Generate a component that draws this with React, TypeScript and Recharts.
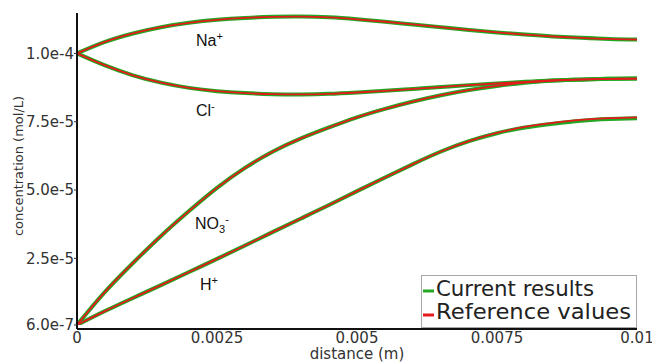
import React from 'react';
import { LineChart, Line, XAxis, YAxis, Label } from 'recharts';

// distance along the domain (m)
const distance = [0, 0.0005, 0.001, 0.0015, 0.002, 0.0025, 0.003, 0.0035, 0.004, 0.0045, 0.005,
    0.0055, 0.006, 0.0065, 0.007, 0.0075, 0.008, 0.0085, 0.009, 0.0095, 0.01];

// concentrations in µmol/L
const naPlus = [100.0, 104.2, 107.3, 109.6, 111.2, 112.3, 113.0, 113.4, 113.5, 113.2, 112.5,
    111.6, 110.6, 109.6, 108.6, 107.7, 106.9, 106.2, 105.7, 105.3, 105.1];
const clMinus = [100.0, 95.6, 92.0, 89.3, 87.4, 86.2, 85.5, 85.1, 85.0, 85.2, 85.7,
    86.3, 87.0, 87.7, 88.4, 89.0, 89.6, 90.1, 90.4, 90.7, 90.8];
const no3Minus = [0.6, 12.7, 23.3, 33.2, 42.3, 50.8, 58.1, 64.1, 68.9, 72.9, 76.6,
    79.7, 82.4, 84.7, 86.6, 88.1, 89.3, 90.1, 90.5, 90.7, 90.8];
// reference H+ and the current run, which ends a touch lower
const hPlus = [0.6, 5.7, 10.5, 15.2, 20.0, 24.8, 29.7, 34.7, 39.6, 44.5, 49.6,
    54.6, 59.5, 64.1, 67.9, 70.9, 73.1, 74.6, 75.7, 76.3, 76.6];
const hPlusCurrent = [0.6, 5.7, 10.5, 15.2, 20.0, 24.8, 29.7, 34.7, 39.6, 44.5, 49.6,
    54.6, 59.5, 64.1, 67.9, 70.8, 72.9, 74.3, 75.4, 76.0, 76.3];

const currentKeys = ['na', 'cl', 'no3', 'hCur'];
const referenceKeys = ['na', 'cl', 'no3', 'h'];

const xTicks = [0, 0.0025, 0.005, 0.0075, 0.01];
const xTickLabels = ['0', '0.0025', '0.005', '0.0075', '0.01'];
const yTicks = [6e-7, 2.5e-5, 5e-5, 7.5e-5, 1e-4];
const yTickLabels = ['6.0e-7', '2.5e-5', '5.0e-5', '7.5e-5', '1.0e-4'];

const GREEN = '#22a822';
const RED = '#e41a1c';
const FONT = '"DejaVu Sans", sans-serif';
const LABEL_FONT = '"Liberation Sans", Arial, sans-serif';

const rows = distance.map((x, i) => ({
    x,
    na: naPlus[i] * 1e-6,
    cl: clMinus[i] * 1e-6,
    no3: no3Minus[i] * 1e-6,
    h: hPlus[i] * 1e-6,
    hCur: hPlusCurrent[i] * 1e-6,
}));

const YTitle = () => (
    <text x={18} y={166} transform="rotate(-90 18 166)" textAnchor="middle" dominantBaseline="central"
        fontFamily={FONT} fontSize={13} fill="#333">
        concentration (mol/L)
    </text>
);

export default function App() {
    return (
        <div style={{ position: 'absolute', left: 0, top: 0, width: 652, height: 363, background: '#fff' }}>
            <LineChart width={652} height={363} data={rows} margin={{ top: 13, right: 15, bottom: 0, left: 17 }}>
                <XAxis
                    dataKey="x"
                    type="number"
                    domain={[0, 0.01]}
                    ticks={xTicks}
                    tickFormatter={(v: number) => xTickLabels[xTicks.indexOf(v)] ?? String(v)}
                    height={34}
                    axisLine={{ stroke: '#111', strokeWidth: 2 }}
                    tickLine={false}
                    tickSize={3}
                    tickMargin={0}
                    tick={{ fill: '#333', fontSize: 15, fontFamily: FONT }}
                >
                    <Label value="distance (m)" position="insideBottom" offset={4}
                        style={{ fill: '#333', fontSize: 15, fontFamily: FONT }} />
                </XAxis>
                <YAxis
                    type="number"
                    domain={[6e-7, 1.148e-4]}
                    ticks={yTicks}
                    tickFormatter={(v: number) => yTickLabels[yTicks.indexOf(v)] ?? String(v)}
                    width={60}
                    padding={{ top: 0, bottom: 4 }}
                    axisLine={{ stroke: '#111', strokeWidth: 2 }}
                    tickLine={{ stroke: '#333' }}
                    tickSize={3}
                    tickMargin={0}
                    tick={{ fill: '#333', fontSize: 15, fontFamily: FONT }}
                    allowDataOverflow
                >
                    <Label content={<YTitle />} />
                </YAxis>

                {/* current results: wide green underneath */}
                {currentKeys.map((k) => (
                    <Line key={'cur-' + k} type="natural" dataKey={k} stroke={GREEN} strokeWidth={4}
                        dot={false} isAnimationActive={false} />
                ))}
                {/* reference values: thin red on top */}
                {referenceKeys.map((k) => (
                    <Line key={'ref-' + k} type="natural" dataKey={k} stroke={RED} strokeWidth={1.8}
                        dot={false} isAnimationActive={false} />
                ))}
            </LineChart>

            {/* species labels and legend */}
            <svg width={652} height={363} style={{ position: 'absolute', left: 0, top: 0, pointerEvents: 'none' }}>
                <g fontFamily={LABEL_FONT} fontSize={16} fill="#111">
                    <text x={196} y={46}>Na<tspan dy={-6} fontSize={11}>+</tspan></text>
                    <text x={196} y={116}>Cl<tspan dy={-6} fontSize={11}>-</tspan></text>
                    <text x={195} y={229}>NO<tspan dy={4} fontSize={11}>3</tspan><tspan dy={-10} fontSize={11}>-</tspan></text>
                    <text x={200} y={290}>H<tspan dy={-6} fontSize={11}>+</tspan></text>
                </g>
                <rect x={421.5} y={275.5} width={215} height={52} fill="#fff" stroke="#a8a8a8" strokeWidth={1} />
                <line x1={423} y1={291} x2={434} y2={291} stroke={GREEN} strokeWidth={3} />
                <line x1={423} y1={315} x2={434} y2={315} stroke={RED} strokeWidth={3} />
                <g fontFamily={FONT} fontSize={22} fill="#222">
                    <text x={436} y={296} textLength={158} lengthAdjust="spacingAndGlyphs">Current results</text>
                    <text x={436} y={319} textLength={195} lengthAdjust="spacingAndGlyphs">Reference values</text>
                </g>
            </svg>
        </div>
    );
}
